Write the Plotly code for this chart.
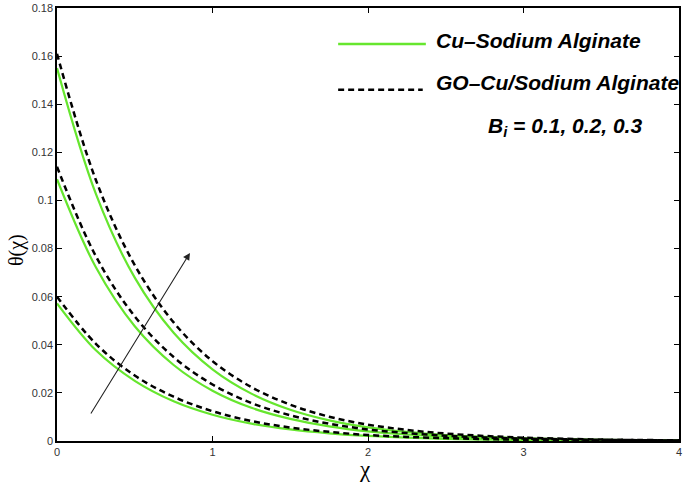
import plotly.graph_objects as go

# ---- data ----
chi = [0, 0.25, 0.5, 0.75, 1.0, 1.25, 1.5, 1.75, 2.0, 2.25, 2.5, 2.75, 3.0, 3.5, 4.0]

cu_bi01 = [0.0572, 0.0377, 0.0250, 0.0165, 0.0109, 0.0072, 0.0048, 0.0032, 0.0021, 0.0014, 0.0009, 0.0006, 0.0004, 0.0002, 0.0001]
cu_bi02 = [0.1088, 0.0722, 0.0477, 0.0316, 0.0209, 0.0138, 0.0092, 0.0061, 0.0040, 0.0027, 0.0018, 0.0012, 0.0008, 0.0003, 0.0001]
cu_bi03 = [0.1550, 0.1027, 0.0679, 0.0450, 0.0298, 0.0197, 0.0130, 0.0086, 0.0057, 0.0038, 0.0025, 0.0017, 0.0011, 0.0005, 0.0002]

go_bi01 = [0.0600, 0.0404, 0.0272, 0.0184, 0.0124, 0.0083, 0.0056, 0.0038, 0.0025, 0.0017, 0.0012, 0.0008, 0.0005, 0.0002, 0.0001]
go_bi02 = [0.1140, 0.0768, 0.0518, 0.0349, 0.0235, 0.0158, 0.0107, 0.0072, 0.0048, 0.0033, 0.0022, 0.0015, 0.0010, 0.0005, 0.0002]
go_bi03 = [0.1610, 0.1085, 0.0731, 0.0493, 0.0332, 0.0224, 0.0151, 0.0101, 0.0068, 0.0046, 0.0031, 0.0021, 0.0014, 0.0006, 0.0003]

y_ticks = [0, 0.02, 0.04, 0.06, 0.08, 0.1, 0.12, 0.14, 0.16, 0.18]
y_tick_text = ["0", "0.02", "0.04", "0.06", "0.08", "0.1", "0.12", "0.14", "0.16", "0.18"]
x_ticks = [0, 1, 2, 3, 4]

arrow_tail = (0.212, 0.0108)
arrow_head = (0.855, 0.0782)

legend_cu = "Cu\u2013Sodium Alginate"
legend_go = "GO\u2013Cu/Sodium Alginate"
bi_label = "B<sub>i</sub> = 0.1, 0.2, 0.3"
x_title = "\u03c7"
y_title = "\u03b8(\u03c7)"

GREEN = "rgb(102,230,46)"
FONT = "Liberation Sans, Arial, Helvetica, sans-serif"
GREEK = "Liberation Serif, DejaVu Serif, serif"

fig = go.Figure()
for ys in (cu_bi01, cu_bi02, cu_bi03):
    fig.add_trace(go.Scatter(x=chi, y=ys, mode="lines", line=dict(color=GREEN, width=2.2, shape="spline"),
                             showlegend=False, hoverinfo="skip"))
for ys in (go_bi01, go_bi02, go_bi03):
    fig.add_trace(go.Scatter(x=chi, y=ys, mode="lines",
                             line=dict(color="black", width=2.5, dash="6px,4px", shape="spline"),
                             showlegend=False, hoverinfo="skip"))

# manual legend
fig.add_shape(type="line", xref="paper", yref="paper", x0=0.452, x1=0.593, y0=0.917, y1=0.917,
              line=dict(color=GREEN, width=2.5))
fig.add_shape(type="line", xref="paper", yref="paper", x0=0.452, x1=0.588, y0=0.811, y1=0.811,
              line=dict(color="black", width=2.5, dash="6px,4px"))
fig.add_annotation(xref="paper", yref="paper", x=0.606, y=0.926, xanchor="left", yanchor="middle",
                   text="<b><i>" + legend_cu + "</i></b>", showarrow=False,
                   font=dict(family=FONT, size=21, color="black"))
fig.add_annotation(xref="paper", yref="paper", x=0.606, y=0.827, xanchor="left", yanchor="middle",
                   text="<b><i>" + legend_go + "</i></b>", showarrow=False,
                   font=dict(family=FONT, size=21, color="black"))
fig.add_annotation(xref="paper", yref="paper", x=0.689, y=0.725, xanchor="left", yanchor="middle",
                   text="<b><i>" + bi_label + "</i></b>", showarrow=False,
                   font=dict(family=FONT, size=21, color="black"))

# axis titles
fig.add_annotation(xref="paper", yref="paper", x=0.495, y=-0.066, xanchor="center", yanchor="middle",
                   text=x_title, showarrow=False, font=dict(family=GREEK, size=23, color="black"))
fig.add_annotation(xref="paper", yref="paper", x=-0.066, y=0.441, xanchor="center", yanchor="middle",
                   text=y_title, textangle=-90, showarrow=False, font=dict(family=GREEK, size=20, color="black"))

# arrow
fig.add_annotation(x=arrow_head[0], y=arrow_head[1], ax=arrow_tail[0], ay=arrow_tail[1],
                   xref="x", yref="y", axref="x", ayref="y", text="", showarrow=True,
                   arrowhead=2, arrowsize=1.3, arrowwidth=1.1, arrowcolor="#222")

axis_common = dict(showline=True, linecolor="black", linewidth=1.5, mirror="ticks", ticks="inside",
                   ticklen=5, tickcolor="black", showgrid=False, zeroline=False, automargin=False,
                   ticklabeloverflow="allow",
                   tickfont=dict(family=FONT, size=11, color="#333"))
fig.update_xaxes(range=[0, 4], tickvals=x_ticks, **axis_common)
fig.update_yaxes(range=[0, 0.18], tickvals=y_ticks, ticktext=y_tick_text, **axis_common)

fig.update_layout(width=685, height=485, margin=dict(l=57, r=6, t=8, b=44),
                  plot_bgcolor="white", paper_bgcolor="white")
fig.write_html("out.html", config={"displayModeBar": False},
               post_script="document.body.style.margin='0px';")
